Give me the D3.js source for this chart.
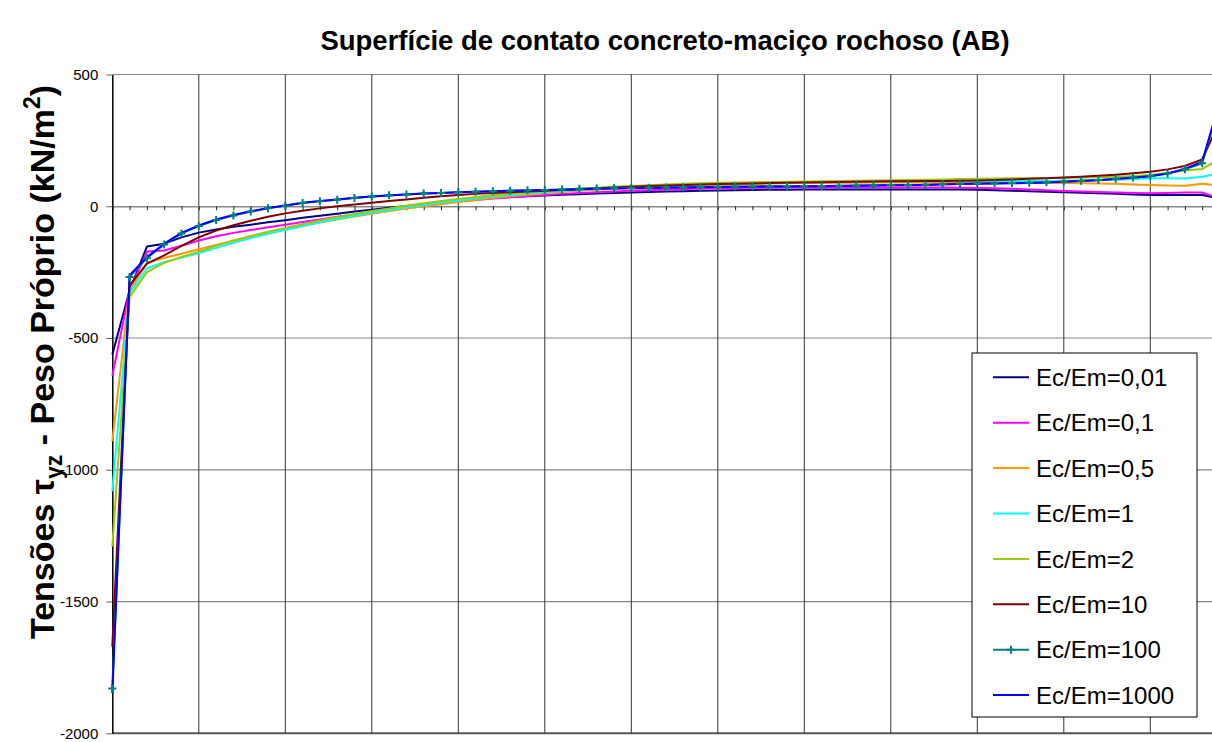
<!doctype html>
<html lang="pt">
<head>
    <meta http-equiv="content-type" content="text/html; charset=utf-8" />
    <title>Superfície de contato concreto-maciço rochoso (AB)</title>
    <style>
        body { margin: 0; background: #fff; }
        #chart { display: block; font-family: Arial, "Liberation Sans", sans-serif; }
    </style>
</head>
<body>
    <svg id="chart"></svg>

    <script src="https://cdn.jsdelivr.net/npm/d3@7"></script>
    <script>
        // values, one per point along the contact surface
        const ec001 = [-563, -320, -153, -142, -118, -100, -88, -78, -70, -61,
            -53, -44, -36, -28, -20, -13, -6, 1, 8, 14,
            20, 26, 31, 35, 38, 41, 44, 46, 48, 50,
            52, 54, 56, 57, 59, 60, 61, 62, 63, 63,
            64, 64, 64, 64, 64, 64, 64, 64, 64, 64,
            63, 61, 59, 57, 55, 53, 51, 49, 47, 45,
            43, 43, 43, 43, 30];
        const ec01 = [-643, -320, -172, -168, -150, -130, -114, -101, -90, -80,
            -70, -60, -50, -40, -31, -22, -13, -5, 3, 11,
            18, 24, 29, 34, 39, 43, 47, 50, 53, 56,
            59, 61, 63, 65, 67, 68, 69, 70, 70, 71,
            71, 71, 71, 71, 71, 71, 71, 71, 71, 70,
            69, 68, 66, 64, 61, 58, 56, 54, 52, 50,
            49, 50, 52, 52, 29];
        const ec05 = [-892, -320, -215, -196, -180, -163, -147, -131, -116, -102,
            -88, -75, -62, -50, -39, -28, -18, -9, 0, 8,
            16, 24, 31, 38, 44, 49, 54, 59, 63, 67,
            71, 74, 77, 79, 81, 83, 84, 85, 86, 87,
            88, 88, 89, 89, 90, 90, 90, 91, 91, 91,
            91, 90, 90, 89, 89, 88, 87, 86, 85, 83,
            81, 79, 78, 85, 79];
        const ec1 = [-1082, -330, -235, -212, -195, -178, -158, -139, -121, -104,
            -89, -75, -61, -48, -36, -25, -14, -4, 5, 14,
            22, 30, 37, 43, 48, 53, 58, 62, 66, 70,
            73, 76, 79, 81, 83, 85, 86, 88, 89, 90,
            91, 92, 93, 94, 94, 95, 95, 96, 96, 96,
            96, 96, 96, 96, 96, 97, 98, 99, 101, 103,
            106, 106, 105, 112, 125];
        const ec2 = [-1291, -345, -250, -215, -192, -172, -150, -131, -113, -97,
            -82, -68, -54, -41, -29, -18, -8, 2, 11, 20,
            28, 35, 42, 48, 53, 57, 62, 66, 70, 74,
            77, 80, 83, 85, 87, 89, 90, 91, 92, 93,
            94, 95, 96, 97, 98, 99, 100, 101, 102, 103,
            104, 105, 106, 106, 107, 108, 109, 110, 112, 115,
            119, 126, 136, 141, 180];
        const ec10 = [-1671, -300, -218, -186, -150, -118, -92, -72, -55, -40,
            -27, -17, -8, 0, 7, 13, 20, 26, 32, 38,
            43, 47, 50, 53, 56, 59, 62, 65, 68, 71,
            74, 77, 79, 81, 83, 84, 85, 86, 88, 89,
            90, 91, 92, 93, 94, 95, 95, 96, 96, 97,
            98, 100, 102, 104, 106, 109, 112, 116, 120, 125,
            131, 140, 153, 178, 321];
        const ec100 = [-1830, -268, -197, -145, -103, -75, -52, -35, -20, -8,
            2, 12, 19, 25, 31, 37, 42, 45, 48, 50,
            53, 55, 57, 59, 61, 62, 64, 66, 67, 68,
            69, 70, 71, 72, 73, 74, 75, 75, 76, 76,
            77, 77, 78, 79, 80, 81, 81, 82, 84, 85,
            86, 87, 88, 89, 91, 94, 97, 100, 104, 109,
            115, 124, 140, 163, 390];
        const ec1000 = [-1848, -262, -193, -142, -101, -73, -50, -33, -19, -7,
            3, 13, 20, 26, 32, 37, 41, 45, 48, 50,
            53, 55, 57, 59, 60, 62, 63, 65, 66, 67,
            68, 69, 70, 71, 72, 73, 74, 74, 75, 75,
            76, 76, 77, 78, 79, 80, 80, 81, 83, 84,
            85, 86, 87, 88, 90, 93, 96, 99, 103, 108,
            114, 124, 142, 169, 396];

        const seriesNames = ["Ec/Em=0,01", "Ec/Em=0,1", "Ec/Em=0,5", "Ec/Em=1",
            "Ec/Em=2", "Ec/Em=10", "Ec/Em=100", "Ec/Em=1000"];
        const seriesValues = [ec001, ec01, ec05, ec1, ec2, ec10, ec100, ec1000];
        const seriesColors = ["#000080", "#ff00ff", "#ff9900", "#00ffff",
            "#99cc00", "#800000", "#008080", "#0000ff"];
        const markerSeries = "Ec/Em=100";

        const yTicks = [500, 0, -500, -1000, -1500, -2000];
        const categories = ec001.map((d, i) => i);

        renderChart("#chart");

        function renderChart(container) {

            const svgWidth = 1212, svgHeight = 742;
            const plotLeft = 112.3, plotTop = 74.5, plotBottom = 733.3;
            const step = 17.3;

            const svg = d3.select(container)
                .attr("width", svgWidth)
                .attr("height", svgHeight);

            svg.append("rect")
                .attr("width", svgWidth)
                .attr("height", svgHeight)
                .attr("fill", "#fff");

            const x = d3.scalePoint()
                .domain(categories)
                .range([plotLeft, plotLeft + step * (categories.length - 1)]);
            const y = d3.scaleLinear()
                .domain([-2000, 500])
                .range([plotBottom, plotTop]);

            // horizontal grid
            svg.append("g")
                .selectAll("line")
                .data(yTicks.filter(v => v !== 0))
                .join("line")
                .attr("x1", plotLeft)
                .attr("x2", svgWidth + 20)
                .attr("y1", d => y(d))
                .attr("y2", d => y(d))
                .attr("stroke", d => d === -2000 ? "#555" : "#888")
                .attr("stroke-width", d => d === -2000 ? 2 : 1.2);

            // vertical grid every 5 points
            svg.append("g")
                .selectAll("line")
                .data(categories.filter(i => i > 0 && i % 5 === 0))
                .join("line")
                .attr("x1", d => x(d))
                .attr("x2", d => x(d))
                .attr("y1", plotTop)
                .attr("y2", plotBottom)
                .attr("stroke", "#333")
                .attr("stroke-width", 1);

            // category axis crossing at zero
            const xAxis = svg.append("g")
                .attr("transform", `translate(0,${y(0)})`)
                .call(d3.axisBottom(x).tickSize(4).tickFormat(""));
            xAxis.select(".domain").attr("stroke", "#888").attr("stroke-width", 1.5);
            xAxis.selectAll(".tick line").attr("stroke", "#222").attr("stroke-width", 1);

            // value axis
            const yAxis = svg.append("g")
                .attr("transform", `translate(${plotLeft},0)`)
                .call(d3.axisLeft(y).tickValues(yTicks).tickFormat(d => String(d))
                    .tickSize(6).tickSizeOuter(0).tickPadding(8));
            yAxis.select(".domain").attr("stroke", "#000").attr("stroke-width", 1.5);
            yAxis.selectAll(".tick line").attr("stroke", "#666");
            yAxis.selectAll(".tick text")
                .attr("font-family", "Arial, 'Liberation Sans', sans-serif")
                .attr("font-size", 15)
                .attr("fill", "#000");

            // series lines
            const line = d3.line()
                .x((d, i) => x(i))
                .y(d => y(d));

            svg.append("g")
                .attr("fill", "none")
                .attr("stroke-width", 2)
                .attr("stroke-linejoin", "round")
                .selectAll("path")
                .data(seriesValues)
                .join("path")
                .attr("stroke", (d, i) => seriesColors[i])
                .attr("d", line);

            // markers
            const mIdx = seriesNames.indexOf(markerSeries);
            const plus = s => `M${-s},0H${s}M0,${-s}V${s}`;
            svg.append("g")
                .attr("stroke", seriesColors[mIdx])
                .attr("stroke-width", 2)
                .attr("fill", "none")
                .selectAll("path")
                .data(seriesValues[mIdx])
                .join("path")
                .attr("transform", (d, i) => `translate(${x(i)},${y(d)})`)
                .attr("d", plus(4));

            // title
            svg.append("text")
                .attr("x", 665)
                .attr("y", 50)
                .attr("text-anchor", "middle")
                .attr("font-size", 27.5)
                .attr("font-weight", "bold")
                .text("Superfície de contato concreto-maciço rochoso (AB)");

            // y axis title
            const yt = svg.append("text")
                .attr("transform", "translate(54,362) rotate(-90)")
                .attr("text-anchor", "middle")
                .attr("font-size", 34)
                .attr("font-weight", "bold");
            yt.append("tspan").text("Tensões τ");
            yt.append("tspan").attr("font-size", 23).attr("dy", 8).text("yz");
            yt.append("tspan").attr("dy", -8).text(" - Peso Próprio (kN/m");
            yt.append("tspan").attr("font-size", 23).attr("dy", -14).text("2");
            yt.append("tspan").attr("dy", 14).text(")");

            // legend
            const legend = svg.append("g").attr("transform", "translate(972,353)");
            legend.append("rect")
                .attr("width", 225)
                .attr("height", 364)
                .attr("fill", "#fff")
                .attr("stroke", "#000")
                .attr("stroke-width", 1);

            const item = legend.selectAll("g")
                .data(seriesNames)
                .join("g")
                .attr("transform", (d, i) => `translate(0,${24.3 + i * 45.4})`);
            item.append("line")
                .attr("x1", 21)
                .attr("x2", 57)
                .attr("stroke", (d, i) => seriesColors[i])
                .attr("stroke-width", 2);
            item.filter(d => d === markerSeries)
                .append("path")
                .attr("transform", "translate(39,0)")
                .attr("stroke", seriesColors[mIdx])
                .attr("stroke-width", 2)
                .attr("d", plus(4));
            item.append("text")
                .attr("x", 64)
                .attr("dy", "0.36em")
                .attr("font-size", 24)
                .text(d => d);
        }
    </script>
</body>
</html>
